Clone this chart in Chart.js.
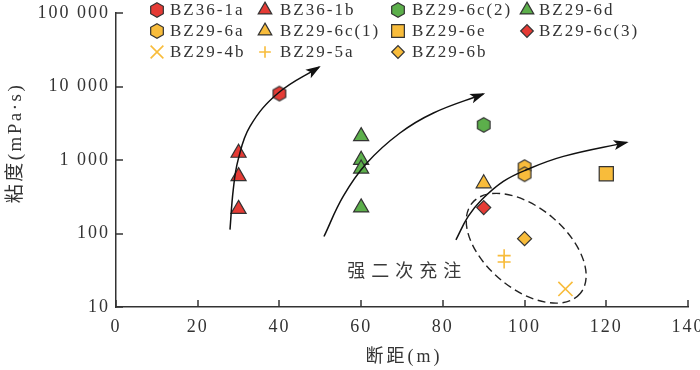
<!DOCTYPE html>
<html><head><meta charset="utf-8">
<script src="https://cdn.jsdelivr.net/npm/chart.js@4/dist/chart.umd.min.js"></script>
<style>html,body{margin:0;padding:0;background:#fff}#wrap{width:700px;height:370px}</style>
</head><body><div id="wrap"><canvas id="c" width="700" height="370" style="width:700px;height:370px"></canvas></div>
<script>
// ---------- data ----------
const seriesNames = ['BZ36-1a','BZ36-1b','BZ29-6c(2)','BZ29-6d','BZ29-6a','BZ29-6c(1)','BZ29-6e','BZ29-6c(3)','BZ29-4b','BZ29-5a','BZ29-6b'];
const bz36_1aX = [40],              bz36_1aY = [8000];
const bz36_1bX = [30, 30, 30],      bz36_1bY = [1250, 600, 215];
const bz29_6c2X = [90],             bz29_6c2Y = [3000];
const bz29_6dX = [60, 60, 60, 60],  bz29_6dY = [2100, 1000, 760, 225];
const bz29_6aX = [100, 100],        bz29_6aY = [800, 640];
const bz29_6c1X = [90],             bz29_6c1Y = [480];
const bz29_6eX = [120],             bz29_6eY = [650];
const bz29_6c3X = [90],             bz29_6c3Y = [225];
const bz29_4bX = [110],             bz29_4bY = [17.6];
const bz29_5aX = [95, 95],          bz29_5aY = [50, 41];
const bz29_6bX = [100],             bz29_6bY = [85];

const trend1X = [27.9, 28.7, 29.9, 32.8, 39.7, 49.7];
const trend1Y = [113, 395, 1010, 2870, 8160, 18400];
const trend2X = [50.9, 55.6, 61.4, 69.5, 77.7, 89.9];
const trend2Y = [91, 320, 910, 2330, 4365, 7900];
const trend3X = [83.2, 86.2, 89.5, 94.8, 100.5, 109.5, 125];
const trend3Y = [82, 171, 288, 512, 738, 1120, 1737];

const xTicks = [0, 20, 40, 60, 80, 100, 120, 140];
const xTickLabels = ['0', '20', '40', '60', '80', '100', '120', '140'];
const yTicks = [10, 100, 1000, 10000, 100000];
const yTickLabels = ['10', '100', '1 000', '10 000', '100 000'];

const xTitle = '断距(m)';
const yTitle = '粘度(mPa·s)';
const noteText = '强二次充注';
const noteAt = [56.6, 32];          // data units (x, y)
const ellipseCenter = [100.4, 63];  // data units (x, y)

// ---------- styles ----------
const RED = '#e53b35', ORANGE = '#f8bc3b', GREEN = '#5caf4b', EDGE = '#333333', TXT = '#333333';
function hexCanvas(fill) {
  const c = document.createElement('canvas'); c.width = 18; c.height = 18;
  const g = c.getContext('2d'); g.beginPath();
  for (let k = 0; k < 6; k++) {
    const a = -Math.PI / 2 + k * Math.PI / 3;
    const px = 9 + 7.3 * Math.cos(a), py = 9 + 7.3 * Math.sin(a);
    k ? g.lineTo(px, py) : g.moveTo(px, py);
  }
  g.closePath(); g.fillStyle = fill; g.fill(); g.lineWidth = 1.2; g.strokeStyle = EDGE; g.stroke();
  return c;
}
const markerStyles = [
  {style: hexCanvas(RED), r: 7.3, fill: RED, edge: EDGE},
  {style: 'triangle', r: 8.7, fill: RED, edge: EDGE},
  {style: hexCanvas(GREEN), r: 7.3, fill: GREEN, edge: EDGE},
  {style: 'triangle', r: 8.7, fill: GREEN, edge: EDGE},
  {style: hexCanvas(ORANGE), r: 7.3, fill: ORANGE, edge: EDGE},
  {style: 'triangle', r: 8.7, fill: ORANGE, edge: EDGE},
  {style: 'rect', r: 10, fill: ORANGE, edge: EDGE},
  {style: 'rectRot', r: 7, fill: RED, edge: EDGE},
  {style: 'crossRot', r: 10, fill: ORANGE, edge: ORANGE},
  {style: 'cross', r: 6.5, fill: ORANGE, edge: ORANGE},
  {style: 'rectRot', r: 7, fill: ORANGE, edge: EDGE}
];
const seriesX = [bz36_1aX, bz36_1bX, bz29_6c2X, bz29_6dX, bz29_6aX, bz29_6c1X, bz29_6eX, bz29_6c3X, bz29_4bX, bz29_5aX, bz29_6bX];
const seriesY = [bz36_1aY, bz36_1bY, bz29_6c2Y, bz29_6dY, bz29_6aY, bz29_6c1Y, bz29_6eY, bz29_6c3Y, bz29_4bY, bz29_5aY, bz29_6bY];
const pts = (xs, ys) => xs.map((x, i) => ({x: x, y: ys[i]}));

const SERIF = "'Liberation Serif', 'Noto Sans CJK SC', serif";

const datasets = [];
[[trend1X, trend1Y], [trend2X, trend2Y], [trend3X, trend3Y]].forEach((t, i) => {
  datasets.push({label: 'trend' + (i + 1), isTrend: true, data: pts(t[0], t[1]), showLine: true,
    borderColor: '#111', borderWidth: 1.5, pointRadius: 0, tension: 0.4, order: 0, fill: false});
});
seriesNames.forEach((n, i) => {
  const m = markerStyles[i];
  datasets.push({label: n, data: pts(seriesX[i], seriesY[i]), pointStyle: m.style, pointRadius: m.r,
    pointHoverRadius: m.r, backgroundColor: m.fill, borderColor: m.edge,
    borderWidth: (m.style === 'cross' || m.style === 'crossRot') ? 1.6 : 1.2, order: 1, clip: false, markerIndex: i});
});

const LS = '2px';
const deco = {
  id: 'deco',
  beforeUpdate(chart) { chart.ctx.letterSpacing = LS; },
  beforeLayout(chart) { chart.ctx.letterSpacing = LS; },
  beforeDraw(chart) { chart.ctx.letterSpacing = LS; },
  afterDatasetsDraw(chart) {
    const ctx = chart.ctx, xs = chart.scales.x, ys = chart.scales.y;
    // arrow heads
    chart.data.datasets.forEach((ds, di) => {
      if (!ds.isTrend) return;
      const els = chart.getDatasetMeta(di).data;
      const last = els[els.length - 1];
      let cx = last.cp1x, cy = last.cp1y;
      if (cx === undefined || (Math.abs(cx - last.x) < 0.01 && Math.abs(cy - last.y) < 0.01)) { cx = els[els.length - 2].x; cy = els[els.length - 2].y; }
      const ang = Math.atan2(last.y - cy, last.x - cx);
      ctx.save(); ctx.translate(last.x, last.y); ctx.rotate(ang);
      ctx.beginPath(); ctx.moveTo(2, 0); ctx.lineTo(-13, -5); ctx.lineTo(-9.5, 0); ctx.lineTo(-13, 5); ctx.closePath();
      ctx.fillStyle = '#111'; ctx.fill(); ctx.restore();
    });
    // dashed ellipse
    const ex = xs.getPixelForValue(ellipseCenter[0]), ey = ys.getPixelForValue(ellipseCenter[1]);
    ctx.save(); ctx.beginPath(); ctx.ellipse(ex, ey, 70.5, 40.5, 40 * Math.PI / 180, 0, 2 * Math.PI);
    ctx.setLineDash([8, 4.5]); ctx.lineWidth = 1.4; ctx.strokeStyle = '#222'; ctx.stroke(); ctx.restore();
  },
  afterDraw(chart) {
    const ctx = chart.ctx, xs = chart.scales.x, ys = chart.scales.y, ca = chart.chartArea;
    ctx.save();
    // inward ticks
    ctx.strokeStyle = '#333'; ctx.lineWidth = 1.5;
    xTicks.forEach(v => { const p = Math.round(xs.getPixelForValue(v)); ctx.beginPath(); ctx.moveTo(p, ca.bottom); ctx.lineTo(p, ca.bottom - 7); ctx.stroke(); });
    yTicks.forEach(v => { const p = Math.round(ys.getPixelForValue(v)); ctx.beginPath(); ctx.moveTo(ca.left, p); ctx.lineTo(ca.left + 7, p); ctx.stroke(); });
    // note text
    ctx.fillStyle = '#3a3a3a'; ctx.font = "18px 'Noto Sans CJK SC', sans-serif"; ctx.letterSpacing = '6px';
    ctx.textAlign = 'left'; ctx.textBaseline = 'middle';
    ctx.fillText(noteText, xs.getPixelForValue(noteAt[0]), ys.getPixelForValue(noteAt[1]));
    // axis titles
    ctx.fillStyle = TXT; ctx.textAlign = 'center';
    ctx.font = "18px " + SERIF; ctx.letterSpacing = '3px';
    ctx.fillText(xTitle, (ca.left + ca.right) / 2 + 2, 357);
    ctx.save(); ctx.translate(16, 143); ctx.rotate(-Math.PI / 2);
    ctx.font = "19px " + SERIF; ctx.letterSpacing = '2.5px';
    ctx.fillText(yTitle, 0, 0); ctx.restore();
    // legend
    const colMarker = [157, 265, 398, 527], colText = [170, 280, 412, 539], rowY = [10, 31, 52];
    ctx.font = "17px " + SERIF; ctx.letterSpacing = '2px'; ctx.textAlign = 'left'; ctx.textBaseline = 'middle';
    chart.data.datasets.forEach(ds => {
      if (ds.isTrend) return;
      const i = ds.markerIndex, col = i % 4, row = Math.floor(i / 4);
      const m = markerStyles[i];
      ctx.fillStyle = m.fill; ctx.strokeStyle = m.edge; ctx.lineWidth = ds.borderWidth;
      ctx.setLineDash([]);
      Chart.helpers.drawPoint(ctx, {pointStyle: m.style, radius: m.r * 0.9, borderWidth: ds.borderWidth, rotation: 0}, colMarker[col], rowY[row]);
      ctx.fillStyle = TXT;
      ctx.fillText(ds.label, colText[col], rowY[row] + 1);
    });
    ctx.restore();
  }
};

new Chart(document.getElementById('c'), {
  type: 'scatter',
  data: {datasets: datasets},
  options: {
    responsive: false, animation: false, devicePixelRatio: 1,
    layout: {padding: {left: 0, right: 12, top: 13, bottom: 0}},
    plugins: {legend: {display: false}, tooltip: {enabled: false}},
    scales: {
      x: {
        type: 'linear', min: 0, max: 140,
        afterBuildTicks: s => { s.ticks = xTicks.map(v => ({value: v})); },
        afterFit: s => { s.height = 63; s.paddingLeft = 0; s.paddingRight = 0; },
        grid: {display: false, drawTicks: false},
        border: {display: true, color: '#333', width: 1.5},
        ticks: {color: TXT, font: {family: SERIF, size: 18}, padding: 9, maxRotation: 0, autoSkip: false,
          callback: (v, i) => xTickLabels[i]}
      },
      y: {
        type: 'logarithmic', min: 10, max: 100000,
        afterBuildTicks: s => { s.ticks = yTicks.map(v => ({value: v})); },
        afterFit: s => { s.width = 116; s.paddingTop = 0; s.paddingBottom = 0; },
        grid: {display: false, drawTicks: false},
        border: {display: true, color: '#333', width: 1.5},
        ticks: {color: TXT, font: {family: SERIF, size: 18}, padding: 6, autoSkip: false,
          callback: (v, i) => yTickLabels[i]}
      }
    }
  },
  plugins: [deco]
});
</script>
</body></html>
